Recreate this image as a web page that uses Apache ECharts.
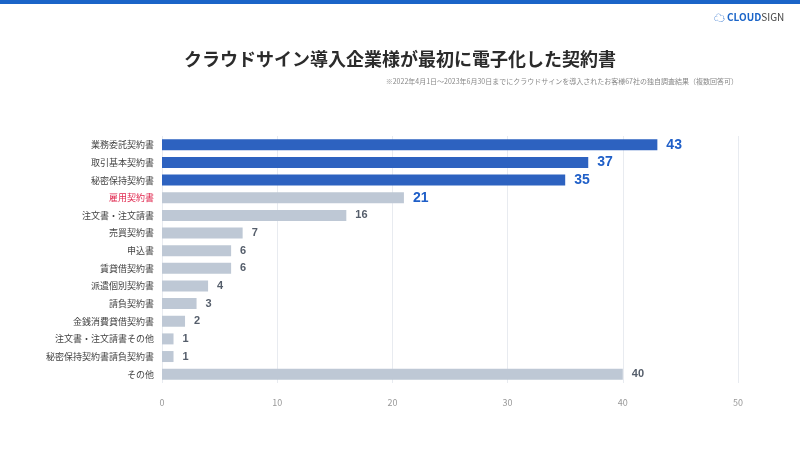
<!DOCTYPE html>
<html><head><meta charset="utf-8">
<script src="https://cdn.jsdelivr.net/npm/echarts@6/dist/echarts.min.js"></script>
<style>html,body{margin:0;padding:0;background:#fff}#c{width:800px;height:450px}</style>
</head><body><div id="c"></div>
<script>
const categories = ['業務委託契約書','取引基本契約書','秘密保持契約書','雇用契約書','注文書・注文請書','売買契約書','申込書','賃貸借契約書','派遣個別契約書','請負契約書','金銭消費貸借契約書','注文書・注文請書その他','秘密保持契約書請負契約書','その他'];
const values = [43,37,35,21,16,7,6,6,4,3,2,1,1,40];
const highlighted = [true,true,true,false,false,false,false,false,false,false,false,false,false,false];
const blueLabel = [true,true,true,true,false,false,false,false,false,false,false,false,false,false];
const xTicks = [0,10,20,30,40,50];
const FONT = '"Noto Sans CJK JP","Noto Sans",sans-serif';

const chart = echarts.init(document.getElementById('c'), null, {renderer:'canvas'});
chart.setOption({
  backgroundColor:'#fff',
  animation:false,
  graphic:[
    {type:'rect', shape:{x:0,y:0,width:800,height:4}, style:{fill:'#1a64c8'}},
    {type:'text', left:714, top:12, style:{text:'☁', fill:'#1a64c8', font:'bold 11px '+FONT}},
    {type:'text', left:727, top:12, style:{text:'{a|CLOUD}{b|SIGN}', rich:{a:{fill:'#1a64c8',font:'bold 10px '+FONT},b:{fill:'#444',font:'10px '+FONT}}}},
    {type:'text', left:'center', top:50, style:{text:'クラウドサイン導入企業様が最初に電子化した契約書', fill:'#2b2b2b', font:'bold 18px '+FONT}},
    {type:'text', right:62, top:78, style:{text:'※2022年4月1日〜2023年6月30日までにクラウドサインを導入されたお客様67社の独自調査結果（複数回答可）', fill:'#888', font:'7px '+FONT}}
  ],
  grid:{left:162, right:62, top:136, bottom:67, containLabel:false},
  xAxis:{type:'value', min:0, max:50, interval:10,
    axisLine:{show:false}, axisTick:{show:false},
    splitLine:{lineStyle:{color:'#e8ebf0', width:1}},
    axisLabel:{color:'#999', fontSize:9, margin:15, fontFamily:FONT}},
  yAxis:{type:'category', inverse:true, data:categories,
    axisLine:{show:false}, axisTick:{show:false},
    axisLabel:{fontSize:9, margin:8, fontFamily:FONT,
      color:function(v){return v==='雇用契約書'?'#e0284f':'#444';}}},
  series:[{type:'bar', barWidth:11,
    data:values.map((v,i)=>({value:v,
      itemStyle:{color:highlighted[i]?'#2d62c0':'#bec8d5'},
      label:{color:blueLabel[i]?'#1f5fc8':'#555e6b', fontSize:blueLabel[i]?14:11}})),
    label:{show:true, position:'right', distance:9, fontWeight:'bold', fontFamily:'"Liberation Sans",Arial,sans-serif'}
  }]
});
</script></body></html>
